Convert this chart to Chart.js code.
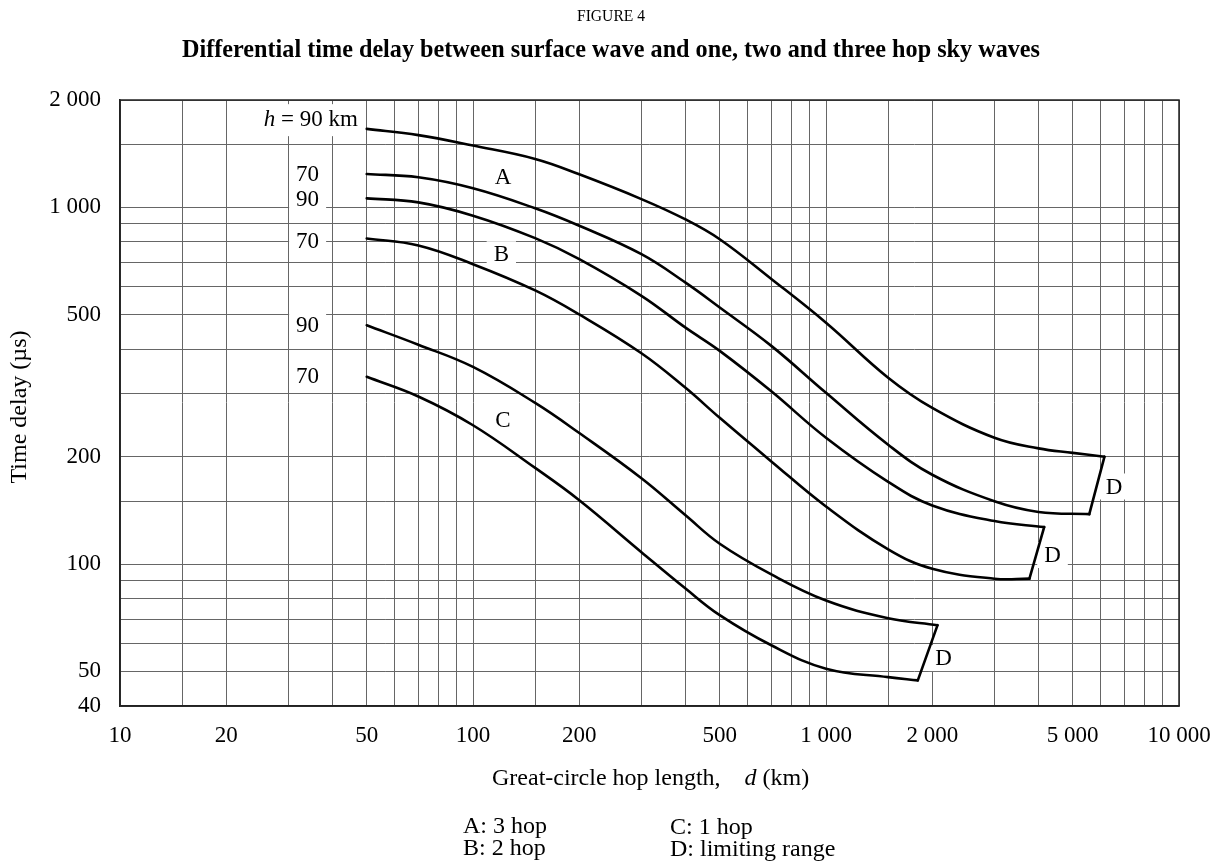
<!DOCTYPE html>
<html>
<head>
<meta charset="utf-8">
<title>Figure 4</title>
<script src="https://cdn.jsdelivr.net/npm/chart.js@4.4.1/dist/chart.umd.min.js"></script>
<style>
  html, body { margin: 0; padding: 0; background: #fff; }
  #box { width: 1222px; height: 867px; }
</style>
</head>
<body>
<div id="box"><canvas id="grafico" width="1222" height="867"></canvas></div>
<script>
// Grid lines and tick labels
const xGrid = [10, 15, 20, 30, 40, 50, 60, 70, 80, 90, 100, 150, 200, 300, 400, 500, 600, 700, 800, 900,
  1000, 1500, 2000, 3000, 4000, 5000, 6000, 7000, 8000, 9000, 10000];
const xTickValues = [10, 20, 50, 100, 200, 500, 1000, 2000, 5000, 10000];
const xTickText = ['10', '20', '50', '100', '200', '500', '1 000', '2 000', '5 000', '10 000'];
const yGrid = [40, 50, 60, 70, 80, 90, 100, 150, 200, 300, 400, 500, 600, 700, 800, 900, 1000, 1500, 2000];
const yTickValues = [40, 50, 100, 200, 500, 1000, 2000];
const yTickText = ['40', '50', '100', '200', '500', '1 000', '2 000'];

// Curves (d in km, delay in µs)
const a90Dist = [50, 70, 100, 150, 200, 300, 400, 500, 700, 1000, 1500, 2000, 3000, 4000, 5000, 6150];
const a90Delay = [1660, 1594, 1490, 1367, 1238, 1055, 925, 814, 630, 475, 333, 274, 226, 211, 205, 200];
const a70Dist = [50, 70, 100, 150, 200, 300, 400, 500, 700, 1000, 1500, 2000, 3000, 4000, 5570];
const a70Delay = [1240, 1214, 1131, 994, 888, 739, 615, 524, 409, 302, 216, 178, 150, 140, 138];
const b90Dist = [50, 70, 100, 150, 200, 300, 400, 500, 700, 1000, 1500, 2000, 3000, 4150];
const b90Delay = [1060, 1033, 948, 820, 716, 565, 460, 396, 305, 226, 170, 146, 132, 127];
const b70Dist = [50, 70, 100, 150, 200, 300, 400, 500, 700, 1000, 1500, 2000, 3000, 3770];
const b70Delay = [818, 782, 693, 585, 501, 390, 312, 257, 194, 145, 110, 97, 91, 91];
const c90Dist = [50, 70, 100, 150, 200, 300, 400, 500, 700, 1000, 1500, 2070];
const c90Delay = [467, 412, 357, 283, 233, 174, 137, 114, 93.5, 79, 70.5, 67.4];
const c70Dist = [50, 70, 100, 150, 200, 300, 400, 500, 700, 1000, 1500, 1820];
const c70Delay = [335, 295, 245, 186, 151, 108, 85.4, 71.9, 59.2, 50.9, 48.2, 47.2];
// Limiting range (D) segments
const d1Dist = [6150, 5570];
const d1Delay = [200, 138];
const d2Dist = [4150, 3770];
const d2Delay = [127, 91];
const d3Dist = [2070, 1820];
const d3Delay = [67.4, 47.2];

// Curve labels, placed in data units
const noteText = ['70', '90', '70', '90', '70', 'A', 'B', 'C', 'D', 'D', 'D'];
const noteDist = [34, 34, 34, 34, 34, 121.6, 120.3, 121.6, 6550, 4382, 2154];
const noteDelay = [1238, 1055, 806, 467, 337, 1214, 739, 254, 165, 106, 54.5];

const serif = "'Liberation Serif', 'Times New Roman', serif";

const pontos = (xs, ys) => xs.map((x, i) => ({ x, y: ys[i] }));
const rotulo = (v, valores, textos) => {
  const i = valores.indexOf(v);
  return i >= 0 ? textos[i] : '';
};

// Text made of pieces with different fonts
const textoMisto = (ctx, partes, x, y, align) => {
  let total = 0;
  partes.forEach(p => { ctx.font = p.font; p.w = ctx.measureText(p.text).width; total += p.w; });
  let cx = align === 'right' ? x - total : align === 'center' ? x - total / 2 : x;
  ctx.textAlign = 'left';
  ctx.textBaseline = 'middle';
  partes.forEach(p => { ctx.font = p.font; ctx.fillText(p.text, cx, y); cx += p.w; });
  return total;
};

// Narrow title text, fitted to a width
const textoEstreito = (ctx, text, font, cx, cy, largura) => {
  ctx.save();
  ctx.font = font;
  const w = ctx.measureText(text).width;
  ctx.translate(cx, cy);
  ctx.scale(largura / w, 1);
  ctx.textAlign = 'center';
  ctx.textBaseline = 'middle';
  ctx.fillText(text, 0, 0);
  ctx.restore();
};

const notas = {
  id: 'notas',
  beforeDatasetsDraw(chart) {
    const { ctx, scales: { x, y } } = chart;
    ctx.save();
    // h = 90 km
    const hx = x.getPixelForValue(47.2), hy = y.getPixelForValue(1756);
    ctx.font = '23px ' + serif;
    const hw = ctx.measureText('h = 90 km').width;
    ctx.fillStyle = '#fff';
    ctx.fillRect(hx - hw - 6, hy - 16, hw + 9, 32);
    ctx.fillStyle = '#000';
    textoMisto(ctx, [
      { text: 'h', font: 'italic 23px ' + serif },
      { text: ' = 90 km', font: '23px ' + serif }
    ], hx, hy, 'right');

    noteText.forEach((t, i) => {
      const px = x.getPixelForValue(noteDist[i]);
      const py = y.getPixelForValue(noteDelay[i]);
      ctx.font = '23px ' + serif;
      const w = ctx.measureText(t).width;
      ctx.fillStyle = '#fff';
      ctx.fillRect(px - w / 2 - 7, py - 13, w + 14, 26);
      ctx.fillStyle = '#000';
      ctx.textAlign = 'center';
      ctx.textBaseline = 'middle';
      ctx.fillText(t, px, py + 1);
    });
    ctx.restore();
  },
  afterDraw(chart) {
    const { ctx, chartArea: a } = chart;
    ctx.save();
    // Frame
    ctx.strokeStyle = '#222';
    ctx.lineWidth = 1.5;
    ctx.strokeRect(a.left, a.top, a.right - a.left, a.bottom - a.top);

    ctx.fillStyle = '#000';
    textoEstreito(ctx, 'FIGURE 4', '17px ' + serif, 611, 17, 68);
    textoEstreito(ctx, 'Differential time delay between surface wave and one, two and three hop sky waves',
      'bold 25px ' + serif, 611, 51, 858);

    // Axis titles
    const f = '24px ' + serif;
    ctx.save();
    ctx.translate(20, 407);
    ctx.rotate(-Math.PI / 2);
    textoMisto(ctx, [{ text: 'Time delay (µs)', font: f }], 0, 0, 'center');
    ctx.restore();
    textoMisto(ctx, [
      { text: 'Great-circle hop length,    ', font: f },
      { text: 'd', font: 'italic 24px ' + serif },
      { text: ' (km)', font: f }
    ], 492, 779, 'left');

    // Key
    textoMisto(ctx, [{ text: 'A: 3 hop', font: f }], 463, 827, 'left');
    textoMisto(ctx, [{ text: 'B: 2 hop', font: f }], 463, 849, 'left');
    textoMisto(ctx, [{ text: 'C: 1 hop', font: f }], 670, 828, 'left');
    textoMisto(ctx, [{ text: 'D: limiting range', font: f }], 670, 850, 'left');
    ctx.restore();
  }
};

const curva = (xs, ys) => ({
  data: pontos(xs, ys),
  borderColor: '#000',
  borderWidth: 2.6,
  pointRadius: 0,
  fill: false,
  tension: 0.4,
  borderCapStyle: 'round',
  borderJoinStyle: 'round'
});
const limite = (xs, ys) => ({ ...curva(xs, ys), tension: 0 });

new Chart(document.getElementById('grafico'), {
  type: 'line',
  data: {
    datasets: [
      curva(a90Dist, a90Delay), curva(a70Dist, a70Delay),
      curva(b90Dist, b90Delay), curva(b70Dist, b70Delay),
      curva(c90Dist, c90Delay), curva(c70Dist, c70Delay),
      limite(d1Dist, d1Delay), limite(d2Dist, d2Delay), limite(d3Dist, d3Delay)
    ]
  },
  options: {
    responsive: false,
    devicePixelRatio: 1,
    animation: false,
    layout: { padding: { top: 100, right: 43, bottom: 0, left: 0 } },
    plugins: { legend: { display: false }, tooltip: { enabled: false }, title: { display: false } },
    scales: {
      x: {
        type: 'logarithmic',
        min: 10,
        max: 10000,
        afterBuildTicks: s => { s.ticks = xGrid.map(v => ({ value: v })); },
        afterFit: s => { s.height = 161; s.paddingLeft = 0; s.paddingRight = 0; },
        grid: { color: '#666', lineWidth: 1, drawTicks: false },
        border: { color: '#222', width: 1.5 },
        ticks: {
          autoSkip: false, maxRotation: 0, minRotation: 0, padding: 16, color: '#000',
          font: { family: serif, size: 23 },
          callback: v => rotulo(v, xTickValues, xTickText)
        }
      },
      y: {
        type: 'logarithmic',
        min: 40,
        max: 2000,
        afterBuildTicks: s => { s.ticks = yGrid.map(v => ({ value: v })); },
        afterFit: s => { s.width = 120; s.paddingTop = 0; s.paddingBottom = 0; },
        grid: { color: '#666', lineWidth: 1, drawTicks: false },
        border: { color: '#222', width: 1.5 },
        ticks: {
          autoSkip: false, padding: 19, color: '#000',
          font: { family: serif, size: 23 },
          callback: v => rotulo(v, yTickValues, yTickText)
        }
      }
    }
  },
  plugins: [notas]
});
</script>
</body>
</html>
